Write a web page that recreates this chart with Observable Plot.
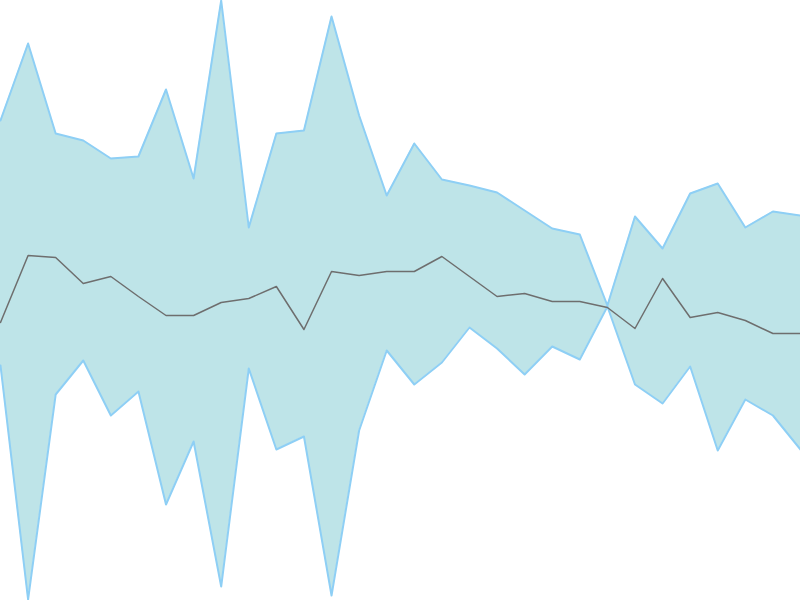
<!DOCTYPE html>
<html>
<head>
<meta charset="utf-8">
<script src="https://cdn.jsdelivr.net/npm/d3@7"></script>
<script src="https://cdn.jsdelivr.net/npm/@observablehq/plot@0.6"></script>
<style>
  html, body { margin: 0; padding: 0; background: #fff; }
</style>
</head>
<body>
<div id="chart"></div>
<script>
const index = d3.range(30);
const upper = [480,557,467,460,442,444,511,422,600,373,467,470,584,485,405,457,421,415,408,390,372,366,295,384,352,407,417,373,389,385];
const middle = [278,345,343,317,324,304,285,285,298,302,314,271,329,325,329,329,344,324,304,307,299,299,293,272,322,283,288,280,267,267];
const lower = [235,1,206,240,185,209,96,159,14,232,151,164,5,170,250,216,238,273,252,226,254,241,294,216,197,234,150,201,185,151];

const data = index.map(i => ({i, upper: upper[i], middle: middle[i], lower: lower[i]}));

const chart = Plot.plot({
  width: 800,
  height: 600,
  margin: 0,
  x: {domain: [0, 29], axis: null},
  y: {domain: [0, 600], axis: null},
  marks: [
    Plot.areaY(data, {x: "i", y1: "lower", y2: "upper", fill: "#bee4e8"}),
    Plot.lineY(data, {x: "i", y: "upper", stroke: "#8ecff5", strokeWidth: 2}),
    Plot.lineY(data, {x: "i", y: "lower", stroke: "#8ecff5", strokeWidth: 2}),
    Plot.lineY(data, {x: "i", y: "middle", stroke: "#6e6e6e", strokeWidth: 1.5})
  ]
});
document.getElementById("chart").append(chart);
</script>
</body>
</html>
